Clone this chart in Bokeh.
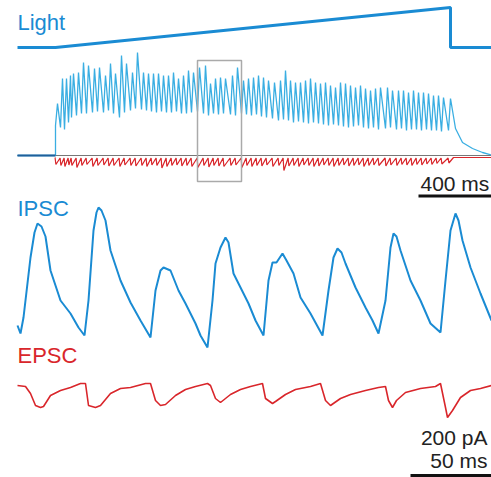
from bokeh.plotting import figure
from bokeh.models import Range1d
from bokeh.core.properties import value
from bokeh.embed import file_html
from bokeh.resources import INLINE

# ---------------- data ----------------
# Light stimulus (% of max) vs time (ms), overview panel
light_t = [-190, 0, 1975, 1975, 2180]
light_v = [0, 0, 100, 0, 0]

# Overview IPSC: event (peak) times in ms, peak and preceding trough amplitudes (pA)
peak_t = [10, 35, 55, 75, 90, 115, 140, 165, 195, 220, 250, 275, 300, 330, 355, 385,
          410, 440, 465, 490, 515, 540, 565, 590, 615, 640, 665, 690, 720, 750, 775,
          800, 825, 850, 885, 910, 940, 965, 990, 1015, 1040, 1065, 1095, 1125, 1150,
          1175, 1200, 1225, 1250, 1275, 1300, 1325, 1350, 1375, 1400, 1425, 1450, 1475,
          1500, 1525, 1550, 1575, 1600, 1625, 1660, 1685, 1715, 1740, 1765, 1790, 1815,
          1840, 1865, 1890, 1915, 1940, 1975]
peak_v = [520, 770, 770, 800, 820, 830, 930, 900, 870, 880, 800, 920, 820, 1000, 920,
          830, 1030, 830, 820, 820, 820, 800, 800, 830, 770, 800, 850, 830, 880, 900,
          720, 770, 780, 770, 800, 880, 750, 770, 780, 800, 780, 750, 730, 750, 850,
          750, 730, 730, 750, 770, 730, 720, 730, 700, 680, 730, 720, 700, 680, 700,
          670, 650, 670, 680, 680, 650, 650, 650, 630, 650, 630, 630, 620, 600, 600,
          580, 570]
trough_v = [300, 280, 260, 330, 380, 400, 420, 420, 430, 440, 430, 450, 420, 380, 430,
            450, 470, 460, 450, 440, 430, 440, 430, 430, 440, 420, 420, 430, 440, 420,
            400, 420, 410, 420, 410, 400, 420, 410, 400, 410, 390, 380, 370, 350, 360,
            350, 330, 340, 330, 320, 330, 320, 310, 300, 310, 300, 290, 280, 290, 300,
            280, 270, 280, 260, 270, 280, 260, 270, 250, 260, 260, 250, 260, 250, 250,
            240, 250]
tail_t = [2000, 2035, 2085, 2135, 2180]
tail_v = [270, 130, 70, 30, 5]

# Overview EPSC: trough amplitude per event (pA)
epsc_trough = [-90, -100, -110, -95, -100, -120, -100, -90, -110, -100, -95, -105, -100,
               -110, -95, -100, -105, -100, -110, -95, -100, -125, -110, -100, -95, -105,
               -100, -110, -120, -100, -115, -100, -105, -110, -100, -95, -120, -100, -110,
               -100, -105, -95, -110, -100, -150, -105, -100, -110, -95, -100, -110, -105,
               -95, -100, -110, -100, -95, -105, -100, -95, -110, -100, -95, -100, -105,
               -95, -100, -90, -95, -100, -90, -95, -85, -90, -80, -85, -75]

# Zoomed IPSC (time ms, current pA)
ipsc_t = [0, 1.5, 3, 6.5, 8.5, 10, 12, 14, 16.5, 21.5, 26.5, 30.5, 33.5, 35.5, 38, 39.5,
          40.5, 42, 44, 46.5, 51.5, 56.5, 61.5, 66.5, 69, 71.5, 73, 76.5, 80.5, 84, 89,
          91.5, 95, 97.5, 99, 101.5, 104, 105.5, 108, 111.5, 115.5, 119, 123, 125.5, 127.5,
          129.5, 132.5, 134.5, 138, 141.5, 146.5, 152.5, 155.5, 158, 160, 162, 164, 169,
          174, 177.5, 180.5, 184, 186.5, 188, 189.5, 191.5, 196.5, 201.5, 206.5, 211.5,
          214, 216.5, 219, 220.5, 222.5, 226.5, 231.5, 237]
ipsc_v = [75, 35, 115, 415, 540, 585, 570, 520, 350, 200, 135, 65, 25, 200, 550, 640,
          665, 650, 600, 450, 300, 190, 100, 15, 250, 350, 365, 350, 250, 185, 85,
          25, -35, 200, 385, 465, 515, 490, 335, 265, 185, 100, 25, 300, 390,
          390, 435, 400, 335, 215, 135, 25, 250, 415, 460, 440, 385, 265,
          165, 100, 35, 200, 465, 535, 520, 450, 300, 200, 85, 40,
          300, 550, 635, 600, 500, 365, 235, 100]

# Zoomed EPSC (time ms, current pA)
epsc_t = [0, 4, 6.5, 9, 11.5, 13, 16.5, 21.5, 26.5, 31.5, 34, 35.5, 39, 41.5, 46.5, 51.5,
          56.5, 64, 66.5, 69, 71.5, 74, 79, 84, 89, 95, 96.5, 99, 101.5, 106.5, 111.5,
          116.5, 122.5, 124, 127.5, 129, 134, 139, 146.5, 151.5, 154, 156.5, 161.5, 166.5,
          174, 180.5, 184, 185.5, 187.5, 189.5, 194, 201.5, 209, 211.5, 214, 215, 217.5,
          221.5, 226.5, 231.5, 237]
epsc_v = [-10, -15, -50, -110, -120, -115, -60, -35, -20, 0, 0, -110, -120, -110, -50, -25,
          -20, 0, 0, -85, -110, -105, -60, -30, -15, 0, -10, -75, -95, -55, -30,
          -15, 0, -75, -100, -90, -55, -30, -15, 0, -85, -110, -75, -55,
          -35, -20, -15, -85, -120, -85, -45, -25, -15, 0, -120, -170, -135,
          -70, -35, -25, -10]

# Zoom window (ms, pA) and scale bars
box_t = [710, 930]
box_v = [-260, 950]
bar_400 = [1815, 2215]
bar_50 = [196.5, 246.5]

# ---------------- build traces from the read values ----------------
ov_t = [-190, 0]
ov_v = [0, 0]
for tp, pv, tv in zip(peak_t, peak_v, trough_v):
    ov_t += [tp - 10, tp]
    ov_v += [tv, pv]
ov_t += tail_t
ov_v += tail_v

red_t = [0]
red_v = [-20]
for tp, ev in zip(peak_t, epsc_trough):
    red_t += [tp - 12, tp - 8]
    red_v += [-25, ev]
red_t += [1990, 2180]
red_v += [-20, -20]

# ---------------- figure ----------------
BLUE = "#1a8bd3"
LIGHT_BLUE = "#3aaee2"
RED = "#d9262b"
FONT = value("Liberation Sans")
FS = "22px"

p = figure(width=491, height=477, output_backend="svg", toolbar_location=None,
           x_range=Range1d(-275, 2180), y_range=Range1d(-3220, 1550),
           min_border=0, min_border_left=0, min_border_right=0,
           min_border_top=0, min_border_bottom=0)
p.xaxis.visible = False
p.yaxis.visible = False
p.grid.visible = False
p.outline_line_color = None
p.background_fill_color = "white"
p.border_fill_color = "white"

p.extra_y_ranges = {
    "light": Range1d(-1075, 117.5),
    "ipsc": Range1d(-685, 1700),
    "epsc": Range1d(-470, 1915),
}
p.extra_x_ranges = {"zoom": Range1d(-8.5, 237)}

# Light
p.line(light_t, light_v, y_range_name="light", line_color=BLUE, line_width=3)
p.text(x=[-190], y=[62.5], text=["Light"], y_range_name="light", text_font=FONT,
       text_font_size=FS, text_color=BLUE, text_baseline="alphabetic")

# Overview traces
p.line([-190, 2180], [0, 0], line_color="#777777", line_width=1)
p.line(red_t, red_v, line_color=RED, line_width=1.2)
p.line(ov_t, ov_v, line_color=LIGHT_BLUE, line_width=1.3)
p.line([-190, 0], [0, 0], line_color="#1f5f9a", line_width=2)

# Zoom box
p.quad(left=[box_t[0]], right=[box_t[1]], bottom=[box_v[0]], top=[box_v[1]],
       fill_color=None, line_color="#aaaaaa", line_width=1.5)

# 400 ms bar
p.line(bar_400, [-405, -405], line_color="#111111", line_width=3)
p.text(x=[1825], y=[-280], text=["400 ms"], text_font=FONT, text_font_size="21px",
       text_color="#222222", text_baseline="alphabetic")

# Zoomed IPSC
p.line(ipsc_t, ipsc_v, x_range_name="zoom", y_range_name="ipsc",
       line_color=BLUE, line_width=2)
p.text(x=[0], y=[660], text=["IPSC"], x_range_name="zoom", y_range_name="ipsc",
       text_font=FONT, text_font_size=FS, text_color=BLUE, text_baseline="alphabetic")

# Zoomed EPSC
p.line(epsc_t, epsc_v, x_range_name="zoom", y_range_name="epsc",
       line_color=RED, line_width=1.6)
p.text(x=[0], y=[140], text=["EPSC"], x_range_name="zoom", y_range_name="epsc",
       text_font=FONT, text_font_size=FS, text_color=RED, text_baseline="alphabetic")

# Scale bars (zoom)
p.text(x=[235, 235], y=[-270, -385], text=["200 pA", "50 ms"], x_range_name="zoom",
       y_range_name="epsc", text_font=FONT, text_font_size="21px", text_color="#222222",
       text_align="right", text_baseline="alphabetic")
p.line(bar_50, [-460, -460], x_range_name="zoom", y_range_name="epsc",
       line_color="#111111", line_width=3)

open("out.html", "w").write(file_html(p, INLINE))
